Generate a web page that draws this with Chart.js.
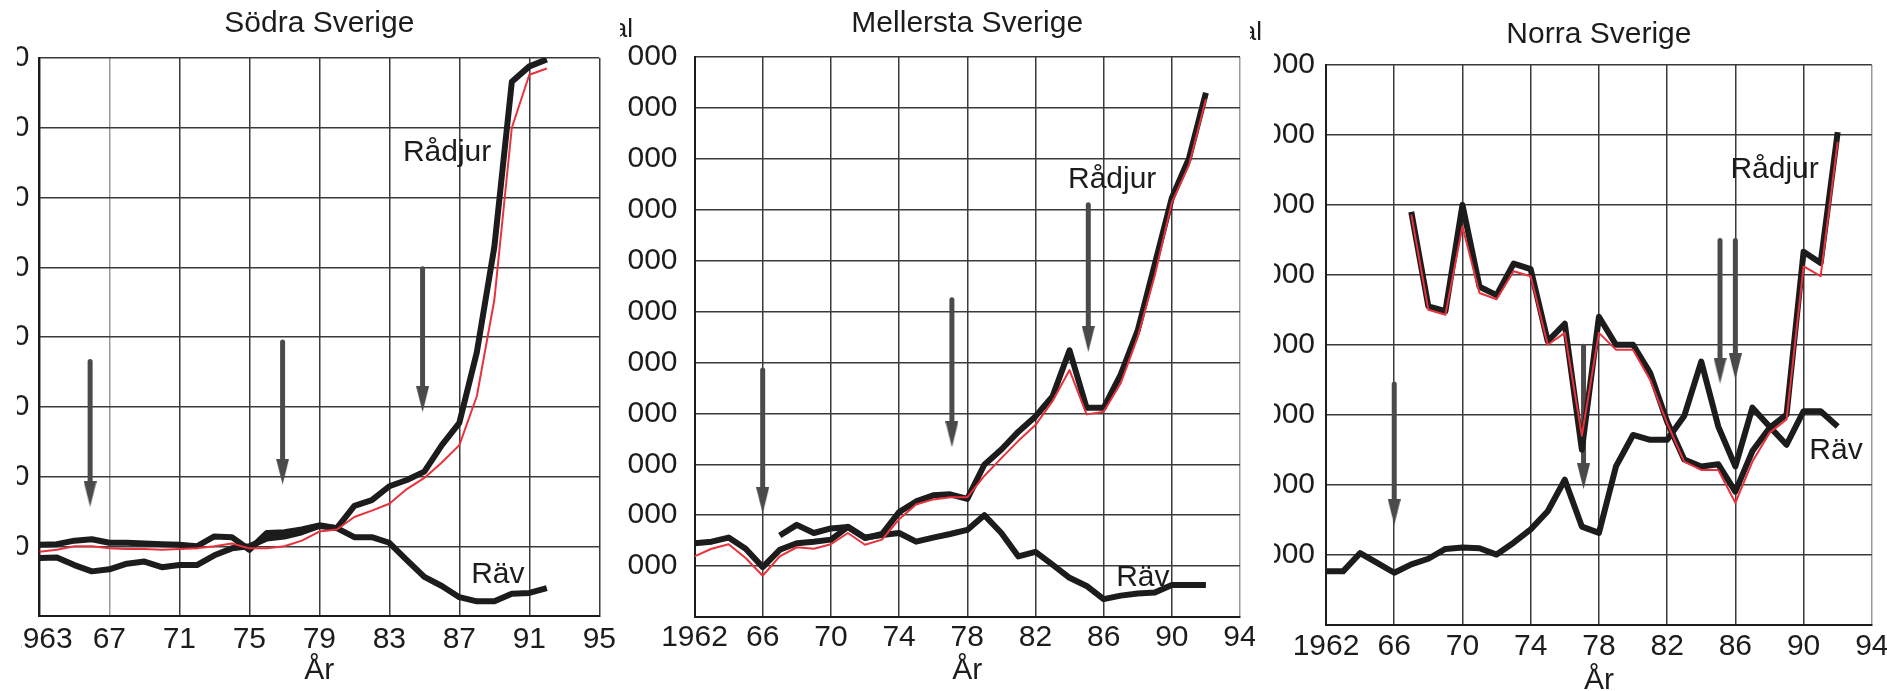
<!DOCTYPE html>
<html>
<head>
<meta charset="utf-8">
<script src="https://cdn.jsdelivr.net/npm/chart.js@4.4.0/dist/chart.umd.min.js"></script>
<style>
  body { margin: 0; background: #fff; width: 1887px; height: 691px; overflow: hidden; position: relative; }
  .panel { position: absolute; top: 0; height: 691px; overflow: hidden; }
  .panel canvas { position: absolute; top: 0; }
  #p1 { left: 17px; width: 603px; clip-path: polygon(0 0, 100% 0, 100% 100%, 4px 100%, 4px 600px, 0 600px); }
  #p2 { left: 620px; width: 635px; }
  #p3 { left: 1250px; width: 637px; clip-path: polygon(0 0, 100% 0, 100% 100%, 0 100%, 0 600px, 24px 600px, 24px 50px, 0 50px); }
  #c1 { left: -17px; }
  #c2 { left: -20px; }
  #c3 { left: 0; }
</style>
</head>
<body>
<div class="panel" id="p1"><canvas id="c1" width="622" height="691"></canvas></div>
<div class="panel" id="p2"><canvas id="c2" width="660" height="691"></canvas></div>
<div class="panel" id="p3"><canvas id="c3" width="643" height="691"></canvas></div>
<script>
const FONT = '"Liberation Sans", Arial, sans-serif';
const INK = '#1c1c1c';

// Södra Sverige
const sodraYears = [1963, 1964, 1965, 1966, 1967, 1968, 1969, 1970, 1971, 1972, 1973, 1974, 1975, 1976, 1977,
  1978, 1979, 1980, 1981, 1982, 1983, 1984, 1985, 1986, 1987, 1988, 1989, 1990, 1991, 1992];
const sodraRadjur = [1.02, 1.03, 1.08, 1.10, 1.05, 1.05, 1.04, 1.03, 1.02, 1.00, 1.14, 1.13, 0.95, 1.19, 1.20,
  1.24, 1.30, 1.26, 1.58, 1.66, 1.86, 1.95, 2.07, 2.45, 2.77, 3.78, 5.29, 7.66, 7.88, 7.98];
const sodraRadjurRed = [0.92, 0.95, 1.00, 1.00, 0.97, 0.96, 0.96, 0.95, 0.96, 0.97, 1.00, 1.04, 0.97, 0.97, 1.00,
  1.08, 1.21, 1.24, 1.42, 1.51, 1.61, 1.82, 1.98, 2.20, 2.45, 3.15, 4.53, 7.00, 7.76, 7.85];
const sodraRav = [0.83, 0.84, 0.73, 0.64, 0.67, 0.75, 0.78, 0.70, 0.73, 0.73, 0.87, 0.97, 1.00, 1.11, 1.14,
  1.20, 1.29, 1.26, 1.13, 1.13, 1.05, 0.80, 0.56, 0.43, 0.27, 0.21, 0.21, 0.32, 0.33, 0.40];
const sodraArrowYears = [1965.9, 1976.9, 1984.9];
const sodraArrowTops = [3.65, 3.93, 4.98];
const sodraArrowHeads = [1.75, 2.07, 3.11];
const sodraXTicks = [1963, 1967, 1971, 1975, 1979, 1983, 1987, 1991, 1995];
const sodraXLabels = ['1963', '67', '71', '75', '79', '83', '87', '91', '95'];
const sodraYTicks = [0, 1, 2, 3, 4, 5, 6, 7, 8];
const sodraYLabels = ['', '0', '0', '0', '0', '0', '0', '0', '0'];
const sodraNames = ['Rådjur', 'Räv'];
const sodraNameYears = [1986.3, 1989.2];
const sodraNameValues = [6.64, 0.59];

// Mellersta Sverige
const mellYears = [1962, 1963, 1964, 1965, 1966, 1967, 1968, 1969, 1970, 1971, 1972, 1973, 1974, 1975, 1976, 1977,
  1978, 1979, 1980, 1981, 1982, 1983, 1984, 1985, 1986, 1987, 1988, 1989, 1990, 1991, 1992];
const mellRadjur = [1.45, 1.48, 1.56, 1.34, 0.98, 1.32, 1.45, 1.48, 1.52, 1.77, 1.55, 1.63, 2.06, 2.27, 2.39, 2.41,
  2.32, 2.99, 3.29, 3.64, 3.94, 4.33, 5.24, 4.11, 4.11, 4.76, 5.63, 6.93, 8.23, 9.00, 10.30];
const mellRadjurRed = [1.19, 1.34, 1.43, 1.16, 0.81, 1.19, 1.37, 1.34, 1.43, 1.65, 1.42, 1.52, 1.92, 2.21, 2.31, 2.35,
  2.35, 2.77, 3.12, 3.46, 3.77, 4.24, 4.85, 3.98, 4.03, 4.59, 5.50, 6.71, 8.14, 8.87, 10.17];
const mellRav = [null, null, null, null, null, 1.60, 1.81, 1.65, 1.74, 1.77, 1.56, 1.61, 1.65, 1.48, 1.56, 1.63,
  1.71, 2.00, 1.65, 1.19, 1.28, 1.03, 0.77, 0.61, 0.35, 0.42, 0.46, 0.48, 0.63, 0.63, 0.63];
const mellArrowYears = [1966, 1977.1, 1985.1];
const mellArrowTops = [4.85, 6.23, 8.1];
const mellArrowHeads = [2.29, 3.59, 5.46];
const mellXTicks = [1962, 1966, 1970, 1974, 1978, 1982, 1986, 1990, 1994];
const mellXLabels = ['1962', '66', '70', '74', '78', '82', '86', '90', '94'];
const mellYTicks = [0, 1, 2, 3, 4, 5, 6, 7, 8, 9, 10, 11];
const mellYLabels = ['', '000', '000', '000', '000', '000', '000', '000', '000', '000', '000', '000'];
const mellNames = ['Rådjur', 'Räv'];
const mellNameYears = [1986.5, 1988.3];
const mellNameValues = [8.58, 0.78];

// Norra Sverige
const norraYears = mellYears;
const norraRadjur = [null, null, null, null, null, 5.90, 4.55, 4.48, 6.00, 4.83, 4.71, 5.16, 5.08, 4.05, 4.30, 2.50,
  4.40, 4.00, 4.00, 3.60, 2.90, 2.36, 2.26, 2.29, 1.90, 2.48, 2.81, 3.00, 5.33, 5.17, 7.04];
const norraRadjurRed = [null, null, null, null, null, 5.86, 4.50, 4.43, 5.69, 4.74, 4.65, 5.05, 4.98, 4.00, 4.17, 2.70,
  4.17, 3.93, 3.93, 3.50, 2.88, 2.33, 2.21, 2.21, 1.74, 2.33, 2.74, 2.93, 5.12, 4.98, 6.90];
const norraRav = [0.76, 0.76, 1.02, 0.88, 0.74, 0.86, 0.94, 1.08, 1.10, 1.09, 1.00, 1.17, 1.36, 1.62, 2.07, 1.40,
  1.31, 2.26, 2.71, 2.64, 2.64, 2.98, 3.76, 2.83, 2.26, 3.10, 2.83, 2.57, 3.05, 3.05, 2.83];
const norraArrowYears = [1966, 1977.1, 1985.1, 1986];
const norraArrowTops = [3.44, 3.98, 5.49, 5.49];
const norraArrowHeads = [1.61, 2.12, 3.63, 3.69];
const norraXTicks = mellXTicks;
const norraXLabels = mellXLabels;
const norraYTicks = [0, 1, 2, 3, 4, 5, 6, 7, 8];
const norraYLabels = ['', '000', '000', '000', '000', '000', '000', '000', '000'];
const norraNames = ['Rådjur', 'Räv'];
const norraNameYears = [1988.3, 1991.9];
const norraNameValues = [6.5, 2.49];

function series(years, values) {
  return values.map((v, i) => ({ x: years[i], y: v }));
}

function arrowHead(color) {
  const c = document.createElement('canvas');
  c.width = 13;
  c.height = 26;
  const g = c.getContext('2d');
  g.fillStyle = color;
  g.beginPath();
  g.moveTo(0, 0);
  g.lineTo(13, 0);
  g.lineTo(6.5, 26);
  g.closePath();
  g.fill();
  return c;
}

function arrows(years, tops, heads, color) {
  const head = arrowHead(color);
  return years.map((yr, i) => ({
    data: [{ x: yr, y: tops[i] }, { x: yr, y: heads[i] }],
    borderColor: color,
    borderWidth: 5,
    borderCapStyle: 'butt',
    pointRadius: [0, 10],
    pointStyle: head,
  }));
}

// names inside the plot and the cut "Antal" caption
const textMarks = {
  id: 'textMarks',
  afterDatasetsDraw(chart, args, opts) {
    const { ctx, scales: { x, y }, chartArea } = chart;
    ctx.save();
    ctx.fillStyle = INK;
    ctx.font = '30px ' + FONT;
    ctx.textAlign = 'center';
    ctx.textBaseline = 'middle';
    opts.names.forEach((t, i) => {
      ctx.fillText(t, x.getPixelForValue(opts.years[i]), y.getPixelForValue(opts.values[i]));
    });
    if (opts.captionGap) {
      ctx.font = '26px ' + FONT;
      ctx.textAlign = 'right';
      ctx.textBaseline = 'alphabetic';
      ctx.fillText('Antal', chartArea.left - opts.captionGap, opts.captionY);
    }
    ctx.restore();
  }
};

function makePanel(id, p) {
  const sets = [
    { data: series(p.years, p.red), borderColor: '#e8323c', borderWidth: 2 },
    { data: series(p.years, p.roe), borderColor: INK, borderWidth: 6 },
    { data: series(p.years, p.fox), borderColor: INK, borderWidth: 6 },
  ].concat(arrows(p.arrowYears, p.arrowTops, p.arrowHeads, '#4a4a4a'));

  const xMax = p.xTicks[p.xTicks.length - 1];

  new Chart(document.getElementById(id), {
    type: 'line',
    data: { datasets: sets },
    options: {
      responsive: false,
      animation: false,
      devicePixelRatio: 1,
      layout: { padding: { left: 0, right: p.padR, top: 0, bottom: 0 } },
      elements: {
        point: { radius: 0 },
        line: { tension: 0, borderJoinStyle: 'round' }
      },
      plugins: {
        legend: { display: false },
        tooltip: { enabled: false },
        title: {
          display: true,
          fullSize: false,
          text: p.title,
          color: INK,
          font: { family: FONT, size: 30, weight: 'normal' },
          padding: { top: p.titleTop, bottom: p.titleBottom }
        },
        textMarks: {
          names: p.names, years: p.nameYears, values: p.nameValues,
          captionGap: p.captionGap, captionY: p.captionY
        }
      },
      scales: {
        x: {
          type: 'linear',
          min: p.xTicks[0],
          max: xMax,
          afterBuildTicks: s => { s.ticks = p.xTicks.map(v => ({ value: v })); },
          afterFit: s => { s.height = p.xAxisH; },
          ticks: {
            autoSkip: false, maxRotation: 0, padding: p.xPad, color: INK,
            font: { family: FONT, size: 30 },
            callback: v => p.xLabels[p.xTicks.indexOf(v)]
          },
          grid: {
            drawTicks: false, lineWidth: 1.5,
            color: c => {
              const v = c.tick && c.tick.value;
              if (v === p.faintX || (p.faintRight && v === xMax)) return '#9a9a9a';
              return '#3a3a3a';
            },
            borderDash: c => (p.faintRight && c.tick && c.tick.value === xMax) ? [6, 5] : []
          },
          border: { color: INK, width: 2 },
          title: {
            display: true, text: 'År', color: INK,
            font: { family: FONT, size: 30 },
            padding: { top: 0, bottom: p.arPad }
          }
        },
        y: {
          min: 0,
          max: p.yTicks[p.yTicks.length - 1],
          afterBuildTicks: s => { s.ticks = p.yTicks.map(v => ({ value: v })); },
          afterFit: s => { s.width = p.yAxisW; },
          ticks: {
            padding: p.yPad, color: INK,
            font: { family: FONT, size: 30 },
            callback: v => p.yLabels[p.yTicks.indexOf(v)]
          },
          grid: { drawTicks: false, lineWidth: 1.5, color: '#3a3a3a' },
          border: { color: INK, width: 2 }
        }
      }
    },
    plugins: [textMarks]
  });
}

makePanel('c1', {
  title: 'Södra Sverige',
  years: sodraYears, roe: sodraRadjur, red: sodraRadjurRed, fox: sodraRav,
  arrowYears: sodraArrowYears, arrowTops: sodraArrowTops, arrowHeads: sodraArrowHeads,
  xTicks: sodraXTicks, xLabels: sodraXLabels, yTicks: sodraYTicks, yLabels: sodraYLabels,
  names: sodraNames, nameYears: sodraNameYears, nameValues: sodraNameValues,
  padR: 20, yAxisW: 35, yPad: 10, xAxisH: 75, xPad: 6, arPad: 2,
  titleTop: 6, titleBottom: 16, faintX: 1967, faintRight: false, captionGap: 0
});

makePanel('c2', {
  title: 'Mellersta Sverige',
  years: mellYears, roe: mellRadjur, red: mellRadjurRed, fox: mellRav,
  arrowYears: mellArrowYears, arrowTops: mellArrowTops, arrowHeads: mellArrowHeads,
  xTicks: mellXTicks, xLabels: mellXLabels, yTicks: mellYTicks, yLabels: mellYLabels,
  names: mellNames, nameYears: mellNameYears, nameValues: mellNameValues,
  padR: 20, yAxisW: 94.5, yPad: 17, xAxisH: 74, xPad: 3, arPad: 2,
  titleTop: 6, titleBottom: 15, faintX: null, faintRight: true, captionGap: 61.5, captionY: 37
});

makePanel('c3', {
  title: 'Norra Sverige',
  years: norraYears, roe: norraRadjur, red: norraRadjurRed, fox: norraRav,
  arrowYears: norraArrowYears, arrowTops: norraArrowTops, arrowHeads: norraArrowHeads,
  xTicks: norraXTicks, xLabels: norraXLabels, yTicks: norraYTicks, yLabels: norraYLabels,
  names: norraNames, nameYears: norraNameYears, nameValues: norraNameValues,
  padR: 20, yAxisW: 76, yPad: 11, xAxisH: 66.5, xPad: 4.5, arPad: -8,
  titleTop: 17, titleBottom: 12, faintX: null, faintRight: true, captionGap: 64, captionY: 40
});
</script>
</body>
</html>
